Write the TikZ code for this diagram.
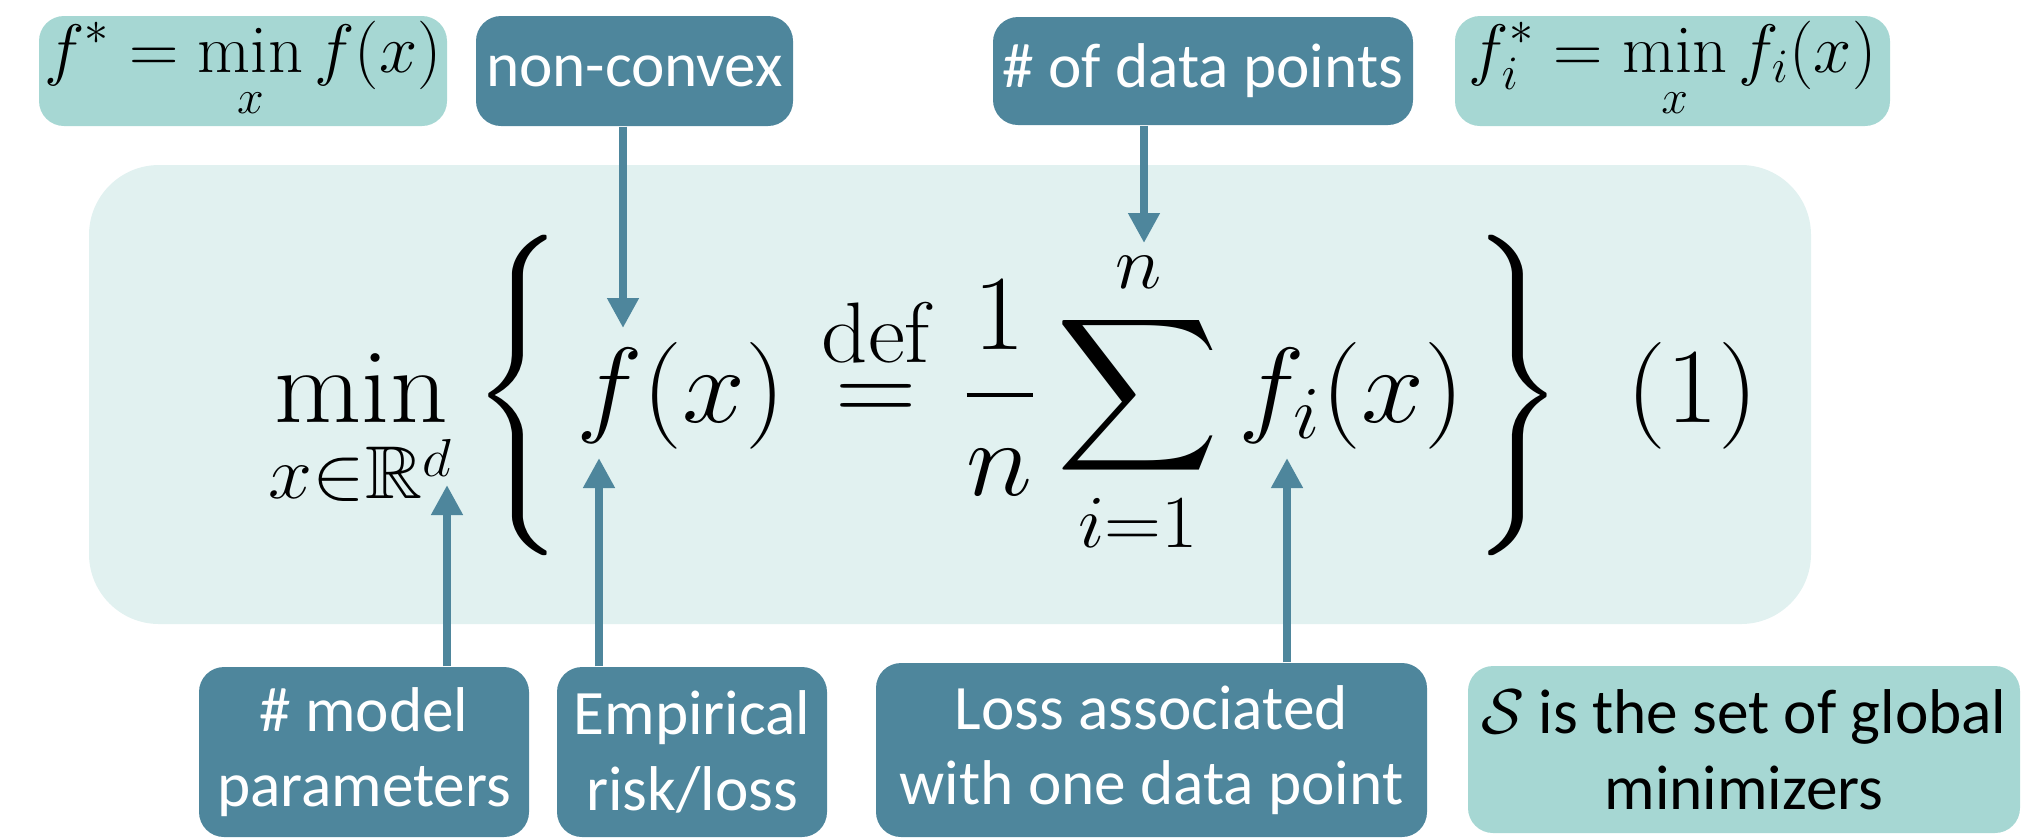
\RequirePackage{fix-cm}
\documentclass[tikz,border=0pt]{standalone}
\usepackage{amsmath,amssymb}
\DeclareMathSizes{24.88}{24.88}{17.42}{12.44}
\usepackage{fontspec}
\newfontfamily\lblfont{Carlito}
\usetikzlibrary{arrows.meta}
\definecolor{optdark}{HTML}{4E869C}
\definecolor{optmint}{HTML}{A6D7D3}
\definecolor{optpanel}{HTML}{E1F1F0}
\tikzset{
  bx/.style={rounded corners=2.5mm, inner sep=0pt, align=center, font=\lblfont\fontsize{18}{21.5}\selectfont},
  darkbox/.style={bx, fill=optdark, text=white},
  mintbox/.style={bx, fill=optmint, text=black},
  mathbox/.style={mintbox, font=\fontsize{19.5}{23}\selectfont},
  arr/.style={-{Triangle[length=3mm,width=3mm]}, line width=0.84mm, color=optdark},
  eqbig/.style={inner sep=0pt, font=\fontsize{24.88}{30}\selectfont, xscale=1.29, yscale=1.222, transform shape},
}

\begin{document}
\begin{tikzpicture}[x=0.1mm,y=-0.1mm]
  \useasboundingbox (0,0) rectangle (2030,838);
  \fill[optpanel, rounded corners=7mm] (89,165) rectangle (1811,624);
  \node[mathbox, minimum width=40.8mm, minimum height=11mm] (fstar) at (243,71) {$\displaystyle f^* = \min_x f(x)$};
  \node[darkbox, minimum width=31.7mm, minimum height=11mm] (nonconvex) at (634.5,71) {non-convex};
  \node[darkbox, minimum width=42mm, minimum height=10.8mm] (npoints) at (1203,71) {\# of data points};
  \node[mathbox, minimum width=43.5mm, minimum height=11mm] (fistar) at (1672.5,71) {$\displaystyle f_i^* = \min_x f_i(x)$};
  \node[eqbig, anchor=base west] (eqn) at (268,422)
    {$\displaystyle \min_{x\in\mathbb{R}^d} \left\{\hspace{1mm} f(x)\hspace{0.4mm} \overset{\text{\fontsize{20}{21}\selectfont def}}{=} \frac{1}{n}\sum_{i=1}^{n} f_i(x)\hspace{0.6mm} \right\}\hspace{3.5mm}(1)$};
  \node[darkbox, minimum width=33mm, minimum height=17mm] (modelp) at (364,752) {\# model\\parameters};
  \node[darkbox, minimum width=27mm, minimum height=17mm] (emprisk) at (692,752) {Empirical\\risk/loss};
  \node[darkbox, minimum width=55.1mm, minimum height=17.4mm] (lossone) at (1151.5,750) {Loss associated\\with one data point};
  \node[mintbox, minimum width=55.2mm, minimum height=16.7mm] (globset) at (1744,749.5) {$\mathcal{S}$ is the set of global\\minimizers};
  \coordinate (fxtop) at (623,328);
  \coordinate (ntop) at (1144,243);
  \coordinate (rdbot) at (447,485);
  \coordinate (fxbot) at (599,458);
  \coordinate (fibot) at (1287,458);
  \draw[arr] (nonconvex.south -| fxtop) -- (fxtop);
  \draw[arr] (npoints.south -| ntop) -- (ntop);
  \draw[arr] (modelp.north -| rdbot) -- (rdbot);
  \draw[arr] (emprisk.north -| fxbot) -- (fxbot);
  \draw[arr] (lossone.north -| fibot) -- (fibot);
\end{tikzpicture}
\end{document}
